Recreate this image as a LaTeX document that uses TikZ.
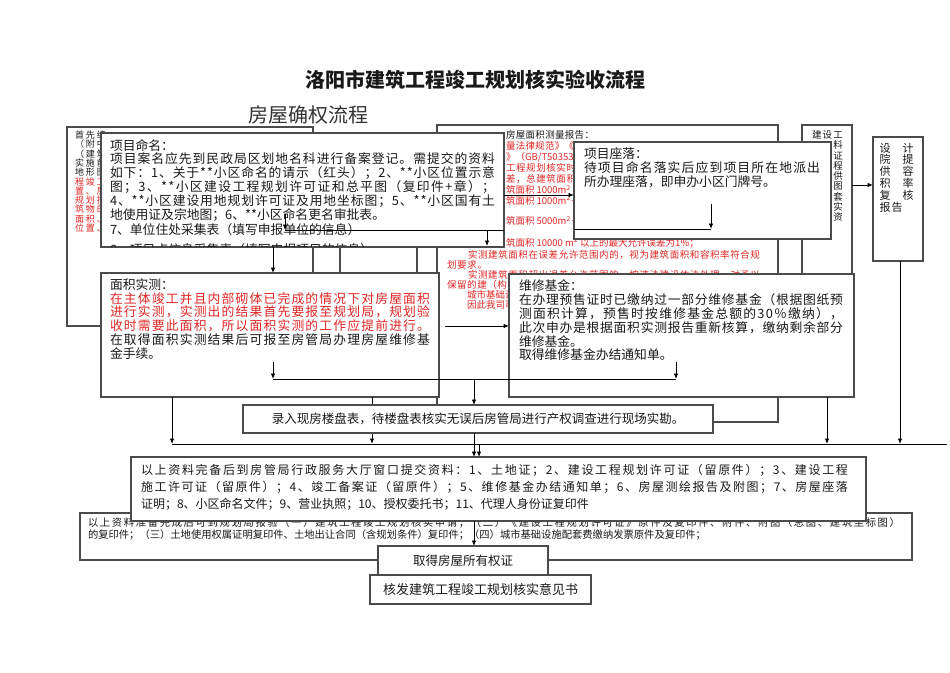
\documentclass[tikz,border=0pt]{standalone}
\usepackage{fontspec}
\setmainfont{Noto Sans CJK SC}
\usetikzlibrary{arrows.meta}
\definecolor{bord}{RGB}{75,75,75}
\definecolor{tred}{RGB}{226,38,38}
\definecolor{tblk}{RGB}{25,25,25}
\newcommand\fsz[1]{\fontsize{#1}{#1}\selectfont}
\def\myjustEnd{MYJUSTEND}
\newcommand\myjust[1]{\myjustB#1\myjustEnd}
\def\myjustB#1{#1\myjustA}
\def\myjustA#1{\ifx\myjustEnd#1\else\hfill#1\expandafter\myjustA\fi}
\newcommand\jst[2]{\makebox[#1][l]{\myjust{#2}}}
\begin{document}
\begin{tikzpicture}[x=1pt,y=-1pt,
  bx/.style={draw=bord, line width=1.1pt, fill=white, anchor=north west, inner sep=0pt, outer sep=0pt},
  tx/.style={anchor=west, inner sep=0pt, outer sep=0pt, text=tblk},
  rt/.style={tx, text=tred},
  ctx/.style={inner sep=0pt, outer sep=0pt, text=tblk},
  arr/.style={draw=black, line width=0.9pt, -{Latex[length=5.5pt,width=4.5pt]}},
  ln/.style={draw=black, line width=0.9pt}]
\useasboundingbox (0,0) rectangle (950,672);
\fill[white] (0,0) rectangle (950,672);

% titles
\node[ctx, font=\fsz{20}\bfseries] (title) at (475,80) {洛阳市建筑工程竣工规划核实验收流程};
\node[tx, font=\fsz{20}, text=black!80] (sub) at (248,115) {房屋确权流程};

% back box A
\node[bx, minimum width=246pt, minimum height=199pt] (boxA) at (67,127) {};
\node[tx, font=\fsz{9}] (a1) at (75,135) {\jst{31pt}{首先编}};
\node[tx, font=\fsz{9}] (a2) at (75,144.5) {\jst{31pt}{（附中}};
\node[tx, font=\fsz{9}] (a3) at (75,154) {\jst{31pt}{（建筑}};
\node[tx, font=\fsz{9}] (a4) at (75,163) {\jst{31pt}{实施前}};
\node[tx, font=\fsz{9}] (a5) at (75,172.5) {\jst{31pt}{地形图}};
\node[rt, font=\fsz{9}] (a6) at (75,182) {\jst{31pt}{程竣工}};
\node[rt, font=\fsz{9}] (a7) at (75,191) {\jst{31pt}{置、层}};
\node[rt, font=\fsz{9}] (a8) at (75,200.5) {\jst{31pt}{规划批}};
\node[rt, font=\fsz{9}] (a9) at (75,209.5) {\jst{31pt}{筑物的}};
\node[rt, font=\fsz{9}] (a10) at (75,219) {\jst{31pt}{面积、}};
\node[rt, font=\fsz{9}] (a11) at (75,228) {\jst{31pt}{位置、}};

% hidden box X
\node[bx, minimum width=77pt, minimum height=60pt] (boxX) at (340,238) {};

% back box B
\node[bx, minimum width=341pt, minimum height=297pt] (boxB) at (437,125) {};
\node[tx, font=\fsz{9.5}] (b1) at (506,135) {\jst{88pt}{房屋面积测量报告：}};
\node[rt, font=\fsz{9.5}] (b2) at (506,146) {\jst{68pt}{量法律规范》《}};
\node[rt, font=\fsz{9.5}] (b3) at (506,157) {》（GB/T50353};
\node[rt, font=\fsz{9.5}] (b4) at (506,168) {\jst{70pt}{工程规划核实时}};
\node[rt, font=\fsz{9.5}] (b5) at (506,179) {\jst{70pt}{差，总建筑面积}};
\node[rt, font=\fsz{9.5}] (b6) at (506,190) {筑面积 1000m\textsuperscript{2} 以};
\node[rt, font=\fsz{9.5}] (b7) at (506,200.5) {筑面积 1000m\textsuperscript{2}－};
\node[rt, font=\fsz{9.5}] (b8) at (506,221) {筑面积 5000m\textsuperscript{2}－};
\node[rt, font=\fsz{9.5}] (b9) at (506,243) {筑面积 10000 m\textsuperscript{2} 以上的最大允许误差为1\%；};
\node[rt, font=\fsz{9.5}] (b10) at (468,255) {\jst{292pt}{实测建筑面积在误差允许范围内的，视为建筑面积和容积率符合规}};
\node[rt, font=\fsz{9.5}] (b11) at (447,265) {\jst{40pt}{划要求。}};
\node[rt, font=\fsz{9.5}] (b12) at (468,274.5) {\jst{292pt}{实测建筑面积超出误差允许范围的，按违法建设依法处理，对予以}};
\node[rt, font=\fsz{9.5}] (b13) at (447,285) {\jst{60pt}{保留的建（构}};
\node[rt, font=\fsz{9.5}] (b14) at (467,295) {\jst{47pt}{城市基础设}};
\node[rt, font=\fsz{9.5}] (b15) at (467,305) {\jst{47pt}{因此我司可}};

% back box C
\node[bx, minimum width=50pt, minimum height=255pt] (boxC) at (802,125) {};
\node[tx, font=\fsz{9.5}] (c0) at (812,135) {\jst{20pt}{建设}};
\foreach \ch/\yy [count=\i] in {工/135,料/145,证/155.5,程/166,供/176,图/186.5,套/196.5,实/207,资/217}
  \node[ctx, font=\fsz{9.5}, name=cc\i] at (838,\yy) {\ch};

% box D
\node[bx, minimum width=50pt, minimum height=124pt] (boxD) at (873,137) {};
\foreach \l/\r/\yy [count=\i] in {设/计/148,院/提/159.5,供/容/171.5,积/率/183.5,复/核/195.5}{
  \node[ctx, font=\fsz{11}, name=dl\i] at (885,\yy) {\l};
  \node[ctx, font=\fsz{11}, name=dr\i] at (908,\yy) {\r};
}
\node[ctx, font=\fsz{11}] (dl6) at (885,207.5) {报};
\node[ctx, font=\fsz{11}] (dr6) at (897,207.5) {告};

% box 项目命名
\node[bx, minimum width=403pt, minimum height=114pt] (ming) at (101,133) {};
\node[tx, font=\fsz{12.8}] (m1) at (110,145.5) {项目命名：};
\node[tx, font=\fsz{12.8}] (m2) at (110,159) {\jst{385pt}{项目案名应先到民政局区划地名科进行备案登记。需提交的资料}};
\node[tx, font=\fsz{12.8}] (m3) at (110,173) {\jst{385pt}{如下：1、关于**小区命名的请示（红头）；2、**小区位置示意}};
\node[tx, font=\fsz{12.8}] (m4) at (110,187) {\jst{385pt}{图；3、**小区建设工程规划许可证和总平图（复印件+章）；}};
\node[tx, font=\fsz{12.8}] (m5) at (110,201) {\jst{385pt}{4、**小区建设用地规划许可证及用地坐标图；5、**小区国有土}};
\node[tx, font=\fsz{12.8}] (m6) at (110,215.5) {地使用证及宗地图；6、**小区命名更名审批表。};
\node[tx, font=\fsz{12.8}] (m7) at (110,229.5) {7、单位住处采集表（填写申报单位的信息）};
\begin{scope}
  \clip (101.6,133.6) rectangle (503.4,246.4);
  \node[tx, font=\fsz{12.8}] (m8) at (110,250) {8、项目点信息采集表（填写申报项目的信息）};
\end{scope}

% box 项目座落
\node[bx, minimum width=257pt, minimum height=97pt] (zuo) at (574,142) {};
\node[tx, font=\fsz{12.8}] (z1) at (584,153.5) {项目座落：};
\node[tx, font=\fsz{12.8}] (z2) at (584,167.5) {\jst{236pt}{待项目命名落实后应到项目所在地派出}};
\node[tx, font=\fsz{12.8}] (z3) at (584,181.5) {所办理座落，即申办小区门牌号。};

% box 面积实测
\node[bx, minimum width=338pt, minimum height=124pt] (mj) at (101,273) {};
\node[tx, font=\fsz{12.8}] (s1) at (110,285) {面积实测：};
\node[rt, font=\fsz{12.8}] (s2) at (110,298.5) {\jst{320pt}{在主体竣工并且内部砌体已完成的情况下对房屋面积}};
\node[rt, font=\fsz{12.8}] (s3) at (110,312) {\jst{320pt}{进行实测，实测出的结果首先要报至规划局，规划验}};
\node[rt, font=\fsz{12.8}] (s4) at (110,326) {\jst{320pt}{收时需要此面积，所以面积实测的工作应提前进行。}};
\node[tx, font=\fsz{12.8}] (s5) at (110,339.5) {\jst{320pt}{在取得面积实测结果后可报至房管局办理房屋维修基}};
\node[tx, font=\fsz{12.8}] (s6) at (110,353.5) {金手续。};

% box 维修基金
\node[bx, minimum width=345pt, minimum height=123pt] (wx) at (509,274) {};
\node[tx, font=\fsz{12.8}] (w1) at (519,286) {维修基金：};
\node[tx, font=\fsz{12.8}] (w2) at (519,300) {\jst{324pt}{在办理预售证时已缴纳过一部分维修基金（根据图纸预}};
\node[tx, font=\fsz{12.8}] (w3) at (519,314) {\jst{324pt}{测面积计算，预售时按维修基金总额的30％缴纳），}};
\node[tx, font=\fsz{12.8}] (w4) at (519,328) {\jst{324pt}{此次申办是根据面积实测报告重新核算，缴纳剩余部分}};
\node[tx, font=\fsz{12.8}] (w5) at (519,341.5) {维修基金。};
\node[tx, font=\fsz{12.8}] (w6) at (519,355) {取得维修基金办结通知单。};

% connectors below the boxes (behind 录入)
\coordinate (h1) at (172,444);
\coordinate (h2) at (372,444);
\coordinate (h3) at (827,444);
\coordinate (h4) at (900,444);
\coordinate (hR) at (947,444);
\draw[ln] (h1) -- (hR);
\draw[arr] (mj.south -| h1) -- (h1);
\draw[arr] (mj.south -| h2) -- (h2);
\draw[arr] (wx.south -| h3) -- (h3);
\draw[arr] (boxD.south -| h4) -- (h4);

% box 录入
\node[bx, minimum width=470pt, minimum height=28pt] (lr) at (243,405) {};
\node[ctx, font=\fsz{12.5}] (lrt) at (478,419) {录入现房楼盘表，待楼盘表核实无误后房管局进行产权调查进行现场实勘。};

% box E
\node[bx, minimum width=832pt, minimum height=47pt] (boxE) at (80,513) {};
\node[tx, font=\fsz{10.3}] (e1) at (88,522.5) {\jst{812pt}{以上资料准备完成后可到规划局报验（一）建筑工程竣工规划核实申请；（二）《建设工程规划许可证》原件及复印件、附件、附图（总图、建筑坐标图）}};
\node[tx, font=\fsz{10.3}] (e2) at (88,535) {的复印件；（三）土地使用权属证明复印件、土地出让合同（含规划条件）复印件；（四）城市基础设施配套费缴纳发票原件及复印件；};

% box 以上资料完备
\node[bx, minimum width=735pt, minimum height=64pt] (ys) at (131,457) {};
\node[tx, font=\fsz{12}] (y1) at (141,470) {\jst{707pt}{以上资料完备后到房管局行政服务大厅窗口提交资料：1、土地证；2、建设工程规划许可证（留原件）；3、建设工程}};
\node[tx, font=\fsz{12}] (y2) at (141,487) {\jst{707pt}{施工许可证（留原件）；4、竣工备案证（留原件）；5、维修基金办结通知单；6、房屋测绘报告及附图；7、房屋座落}};
\node[tx, font=\fsz{12}] (y3) at (141,504) {证明；8、小区命名文件；9、营业执照；10、授权委托书；11、代理人身份证复印件};

% final boxes
\node[bx, minimum width=170pt, minimum height=29pt] (qd) at (378,546) {};
\node[ctx, font=\fsz{12.5}] (qdt) at (463,560.5) {取得房屋所有权证};
\node[bx, minimum width=221pt, minimum height=29pt] (hf) at (370,575) {};
\node[ctx, font=\fsz{13}] (hft) at (480.5,589.5) {核发建筑工程竣工规划核实意见书};

% connectors on top
\coordinate (p195) at (540,195);
\draw[arr] (ming.east |- p195) -- (zuo.west |- p195);
\coordinate (p185) at (860,185);
\draw[arr] (boxC.east |- p185) -- (boxD.west |- p185);
\coordinate (k273) at (273,260);
\draw[arr] (ming.south -| k273) -- (mj.north -| k273);
% inside 项目命名
\coordinate (n1) at (285,214);
\coordinate (n2) at (285,230);
\coordinate (n3) at (487,230);
\coordinate (n4) at (487,246);
\draw[arr] (n1) -- (n2);
\draw[ln] (n2) -- (ming.east |- n2);
\draw[arr] (n3) -- (n4);
% inside 项目座落
\coordinate (r1) at (711,204);
\coordinate (r2) at (711,229);
\draw[arr] (r1) -- (r2);
\draw[ln] (zuo.west |- r2) -- (r2);
% line joining 面积实测 and 维修基金 to 录入
\coordinate (j0) at (273,362);
\coordinate (j1) at (273,379);
\coordinate (j2) at (676,379);
\coordinate (j3) at (676,362);
\coordinate (j4) at (474,379);
\draw[arr] (j0) -- (j1);
\draw[arr] (j3) -- (j2);
\draw[ln] (j1) -- (j2);
\draw[arr] (j4) -- (lr.north -| j4);
% 面积实测 -> 维修基金
\coordinate (g1) at (445,326);
\draw[arr] (g1) -- (wx.west |- g1);
% to 以上资料完备
\coordinate (t1) at (474,440);
\coordinate (t2) at (479,444);
\draw[arr] (lr.south -| t1) -- (ys.north -| t1);
\draw[arr] (t2) -- (ys.north -| t2);
% to 取得房屋所有权证
\draw[arr] (ys.south -| t1) -- (qd.north -| t1);
\end{tikzpicture}
\end{document}
